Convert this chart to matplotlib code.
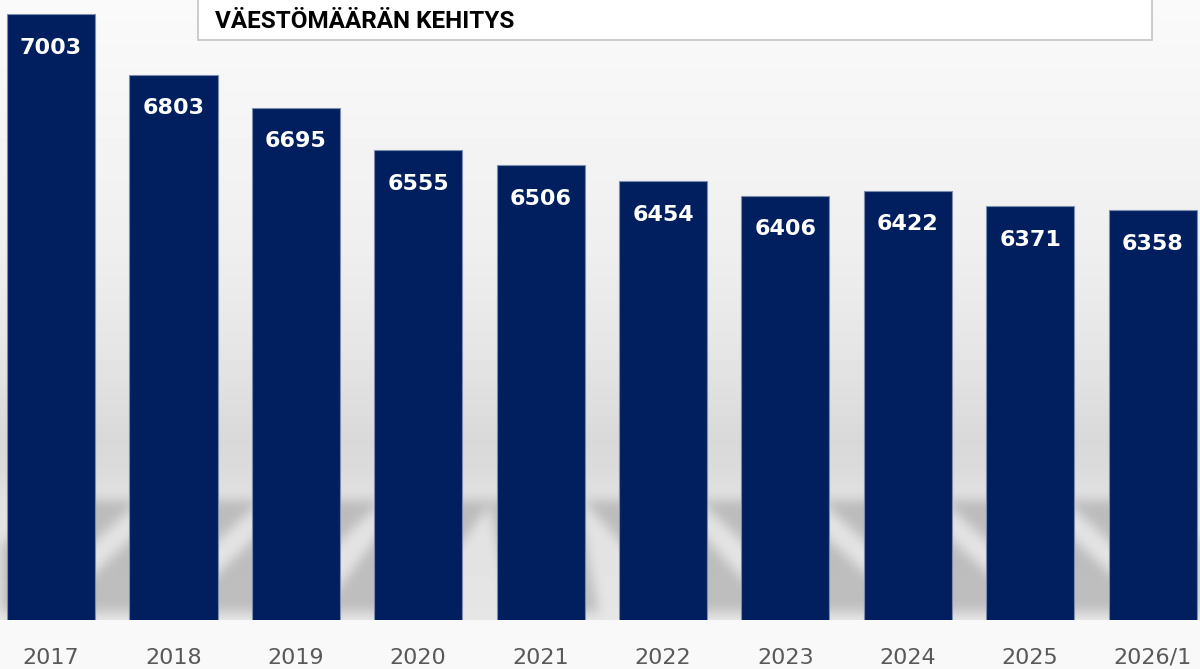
import numpy as np
import matplotlib.pyplot as plt
from matplotlib.patches import Rectangle

years = ['2017', '2018', '2019', '2020', '2021', '2022', '2023', '2024', '2025', '2026/1']
population = [7003, 6803, 6695, 6555, 6506, 6454, 6406, 6422, 6371, 6358]
title = 'VÄESTÖMÄÄRÄN KEHITYS'

W, H = 1200, 669
fig = plt.figure(figsize=(W / 100, H / 100), dpi=100)
bg = fig.add_axes([0, 0, 1, 1], zorder=0)
ax = fig.add_axes([0, 49 / H, 1, 620 / H], zorder=1)
ax.patch.set_alpha(0)

x = np.arange(len(years))
bars = ax.bar(x, population, width=0.72, color='#011f5e',
              edgecolor='#7d8db0', linewidth=0.8)
ax.set_xlim(-0.417, 9.387)
ax.set_ylim(5010, 7049)

for b, v in zip(bars, population):
    ax.annotate(str(v), (b.get_x() + b.get_width() / 2, v), xytext=(0, -17),
                textcoords='offset points', ha='center', va='top',
                color='white', fontsize=16, fontweight='bold')

ax.set_xticks(x, years)
ax.tick_params(axis='x', length=0, pad=20, labelsize=16, labelcolor='#595959')
ax.set_yticks([])
for s in ax.spines.values():
    s.set_visible(False)

# grey gradient background with soft floor shadows behind the bars
yy = np.arange(H)
base = np.interp(yy, [0, 150, 250, 350, 440, 470, 500, 620],
                 [0.98, 0.955, 0.935, 0.9, 0.85, 0.86, 0.885, 0.9])
base[yy >= 620] = 0.976
img = np.repeat(base[:, None], W, axis=1)

mask = np.zeros((H, W))
cols = np.arange(W)
for b in bars:
    left = ax.transData.transform((b.get_x(), 6000))[0]
    right = ax.transData.transform((b.get_x() + b.get_width(), 6000))[0]
    slope = 1.1 * np.tanh(((left + right) / 2 - 520) / 120)
    for row in range(500, 612):
        off = slope * (row - 540)
        mask[row, (cols >= left + off) & (cols <= right + off)] = 1


def box_blur(a, r):
    k = np.ones(2 * r + 1) / (2 * r + 1)
    a = np.apply_along_axis(lambda m: np.convolve(m, k, mode='same'), 0, a)
    a = np.apply_along_axis(lambda m: np.convolve(m, k, mode='same'), 1, a)
    return a


mask = box_blur(box_blur(mask, 6), 6)
mask[620:] = 0
img = img * (1 - 0.17 * mask)

bg.imshow(img, cmap='gray', vmin=0, vmax=1, extent=(0, W, H, 0),
          aspect='auto', interpolation='bilinear')
bg.set_xlim(0, W)
bg.set_ylim(H, 0)
bg.axis('off')

# title box
fig.patches.append(Rectangle((198 / W, 1 - 40 / H), 954 / W, 50 / H,
                             transform=fig.transFigure, facecolor='white',
                             edgecolor='#c3c3c3', lw=1.2, zorder=3))
fig.text(215 / W, 1 - 21 / H, title, fontsize=17.5, fontweight='bold',
         family='Roboto', va='center', zorder=4)

fig.savefig('out.png', dpi=100)
